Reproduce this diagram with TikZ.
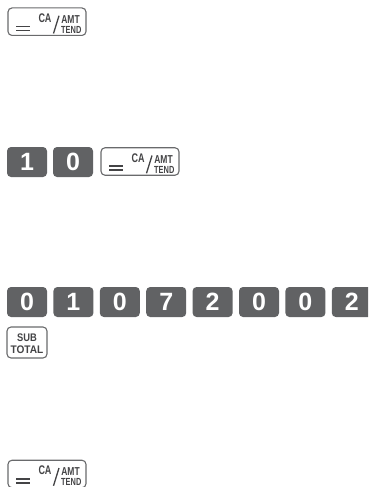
\documentclass[tikz,border=0pt]{standalone}
\usepackage{fontspec}
\setmainfont{Liberation Sans}
\usetikzlibrary{calc}
\definecolor{keygray}{RGB}{97,98,100}
\definecolor{edgegray}{RGB}{105,106,108}
\definecolor{textgray}{RGB}{68,68,70}
\newcommand\cnd[2][0.8]{\scalebox{#1}[1]{#2}}
\tikzset{
  numkey/.style={fill=keygray, rounded corners=4pt, minimum width=40pt, minimum height=30pt, inner sep=0pt, text=white, font=\fontsize{25}{25}\selectfont\bfseries},
  outkey/.style={draw=edgegray, line width=1.1pt, rounded corners=4pt, fill=white, minimum width=78pt, minimum height=27.5pt, inner sep=0pt},
  subkey/.style={outkey, minimum width=40pt, minimum height=31pt},
  keytext/.style={text=textgray, font=\fontsize{11}{11}\selectfont\bfseries, inner sep=0pt, anchor=base},
  keyline/.style={draw=textgray, line width=1.3pt}
}
\newcommand\cakey[2]{%
  \node[outkey] (#1) at (#2) {};
  \node[keytext, font=\fontsize{12.5}{12.5}\selectfont\bfseries] (#1-ca) at ($(#1.center)+(-2,0.8)$) {\cnd[0.72]{CA}};
  \node[keytext, font=\fontsize{11.5}{11.5}\selectfont\bfseries] (#1-amt) at ($(#1.center)+(23.5,1.8)$) {\cnd[0.74]{AMT}};
  \node[keytext, font=\fontsize{10.3}{10.3}\selectfont\bfseries] (#1-tend) at ($(#1.center)+(24.3,11.8)$) {\cnd[0.72]{TEND}};
  \coordinate (#1-s1) at ($(#1.center)+(6.5,11.8)$);
  \coordinate (#1-s2) at ($(#1.center)+(12,-6)$);
  \draw[keyline] (#1-s1) -- (#1-s2);
  \coordinate (#1-e1) at ($(#1.center)+(-31,4.8)$);
  \coordinate (#1-e2) at ($(#1.center)+(-17.5,4.8)$);
  \coordinate (#1-e3) at ($(#1.center)+(-31,8.8)$);
  \coordinate (#1-e4) at ($(#1.center)+(-17.5,8.8)$);
  \draw[keyline, line width=1.7pt] (#1-e1) -- (#1-e2) (#1-e3) -- (#1-e4);
}
\begin{document}
\begin{tikzpicture}[x=1pt,y=-1pt]
\path[use as bounding box] (0,0) rectangle (368,487);
\begin{scope}
\clip (0,0) rectangle (368,487);
% step 1
\cakey{caA}{47,21.7}
% step 2
\node[numkey] (k1) at (27,162) {1};
\node[numkey] (k0) at (73,162) {0};
\cakey{caB}{140,161.5}
% step 3
\node[numkey] (d1) at (27,302) {0};
\node[numkey] (d2) at (73.4,302) {1};
\node[numkey] (d3) at (119.8,302) {0};
\node[numkey] (d4) at (166.2,302) {7};
\node[numkey] (d5) at (212.6,302) {2};
\node[numkey] (d6) at (259,302) {0};
\node[numkey] (d7) at (305.4,302) {0};
\node[numkey] (d8) at (351.8,302) {2};
\node[subkey] (sub) at (27,342.5) {};
\node[keytext] (sub-t1) at ($(sub.center)+(0,-1)$) {\cnd[0.85]{SUB}};
\node[keytext] (sub-t2) at ($(sub.center)+(0,10.8)$) {\cnd[0.92]{TOTAL}};
% step 4
\cakey{caC}{47,474}
\end{scope}
\end{tikzpicture}
\end{document}
